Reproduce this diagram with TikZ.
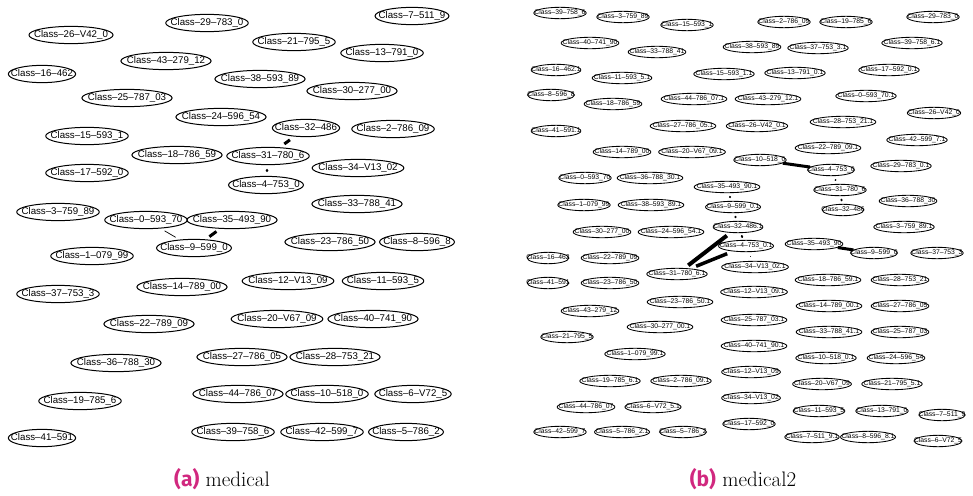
\documentclass[tikz,border=0pt]{standalone}
\usepackage{fontspec}
\usepackage{xcolor}
\usepackage{tikz}
\usetikzlibrary{shapes.geometric}
\newfontfamily\fuentenodo{Liberation Sans}
\newfontfamily\fuenteetiq{Fira Sans}
\definecolor{rosa}{HTML}{D1287F}

\begin{document}
\begin{tikzpicture}[
  x=1pt,y=-1pt,
  clase/.style={ellipse,draw,line width=1pt,inner xsep=-7.2pt,inner ysep=1.5pt,
                text height=7.3pt,text depth=1.9pt,
                font=\fuentenodo\fontsize{9.7}{10}\selectfont},
  clasechica/.style={clase,line width=0.85pt,inner xsep=-7pt,inner ysep=0.8pt,
                text height=5.1pt,text depth=1.36pt,
                font=\fuentenodo\fontsize{6.8}{7.5}\selectfont},
  arista/.style={draw=black},
  fina/.style={arista,line width=0.7pt,shorten <=4.5pt,shorten >=4.5pt},
  gruesa/.style={arista,line width=3pt,shorten <=5.5pt,shorten >=5.5pt},
  punto/.style={arista,line width=2pt,line cap=round,shorten <=4.3pt,shorten >=4.3pt},
  leyenda/.style={anchor=base,inner sep=0pt,font=\fontsize{21}{25}\selectfont}
]
\useasboundingbox (0,0) rectangle (973,495);

% (a) medical
\node[clase] (a29) at (207,23) {Class–29–783\_0};
\node[clase] (a7) at (412,16) {Class–7–511\_9};
\node[clase] (a26) at (71,35) {Class–26–V42\_0};
\node[clase] (a21) at (294,42) {Class–21–795\_5};
\node[clase] (a43) at (166,61) {Class–43–279\_12};
\node[clase] (a13) at (382,53) {Class–13–791\_0};
\node[clase] (a16) at (42,74) {Class–16–462};
\node[clase] (a38) at (260,79) {Class–38–593\_89};
\node[clase] (a25) at (127,98) {Class–25–787\_03};
\node[clase] (a30) at (352,91) {Class–30–277\_00};
\node[clase] (a24) at (221,117) {Class–24–596\_54};
\node[clase] (a32) at (306,128) {Class–32–486};
\node[clase] (a2) at (393,129) {Class–2–786\_09};
\node[clase] (a15) at (87,136) {Class–15–593\_1};
\node[clase] (a18) at (177,155) {Class–18–786\_59};
\node[clase] (a31) at (268,156) {Class–31–780\_6};
\node[clase] (a34) at (358,168) {Class–34–V13\_02};
\node[clase] (a17) at (87,173) {Class–17–592\_0};
\node[clase] (a4) at (266,185) {Class–4–753\_0};
\node[clase] (a33) at (357,204) {Class–33–788\_41};
\node[clase] (a3) at (58,212) {Class–3–759\_89};
\node[clase] (a0) at (146,220) {Class–0–593\_70};
\node[clase] (a35) at (232,220) {Class–35–493\_90};
\node[clase] (a9) at (194,248) {Class–9–599\_0};
\node[clase] (a23) at (330,242) {Class–23–786\_50};
\node[clase] (a8) at (417,242) {Class–8–596\_8};
\node[clase] (a1) at (92,256) {Class–1–079\_99};
\node[clase] (a37) at (58,294) {Class–37–753\_3};
\node[clase] (a14) at (182,287) {Class–14–789\_00};
\node[clase] (a12) at (288,281) {Class–12–V13\_09};
\node[clase] (a11) at (383,281) {Class–11–593\_5};
\node[clase] (a22) at (149,324) {Class–22–789\_09};
\node[clase] (a20) at (277,319) {Class–20–V67\_09};
\node[clase] (a40) at (373,319) {Class–40–741\_90};
\node[clase] (a36) at (116,363) {Class–36–788\_30};
\node[clase] (a27) at (242,357) {Class–27–786\_05};
\node[clase] (a28) at (335,357) {Class–28–753\_21};
\node[clase] (a19) at (80,401) {Class–19–785\_6};
\node[clase] (a44) at (238,394) {Class–44–786\_07};
\node[clase] (a10) at (327,394) {Class–10–518\_0};
\node[clase] (a6) at (413,394) {Class–6–V72\_5};
\node[clase] (a41) at (42,438) {Class–41–591};
\node[clase] (a39) at (233,432) {Class–39–758\_6};
\node[clase] (a42) at (322,432) {Class–42–599\_7};
\node[clase] (a5) at (406,432) {Class–5–786\_2};

\draw[gruesa] (a32) -- (a31);
\draw[punto,line width=2.5pt,shorten <=5.8pt,shorten >=5.8pt] (a31) -- (a4);
\draw[fina] (a0) -- (a9);
\draw[gruesa,shorten <=4.5pt,shorten >=4.5pt] (a35) -- (a9);

% (b) medical2
\node[clasechica] (b39) at (560,13) {Class–39–758\_6};
\node[clasechica] (b3) at (623,17) {Class–3–759\_89};
\node[clasechica] (b15) at (687,25) {Class–15–593\_1};
\node[clasechica] (b2) at (784,22) {Class–2–786\_09};
\node[clasechica] (b19) at (846,22) {Class–19–785\_6};
\node[clasechica] (b29) at (933,17) {Class–29–783\_0};
\node[clasechica] (b40) at (590,43) {Class–40–741\_90};
\node[clasechica] (b33) at (657,52) {Class–33–788\_41};
\node[clasechica] (b38) at (752,47) {Class–38–593\_89};
\node[clasechica] (b37p) at (818,48) {Class–37–753\_3.1};
\node[clasechica] (b39p) at (912,43) {Class–39–758\_6.1};
\node[clasechica] (b16p) at (556,70) {Class–16–462.1};
\node[clasechica] (b11p) at (622,78) {Class–11–593\_5.1};
\node[clasechica] (b15p) at (724,74) {Class–15–593\_1.1};
\node[clasechica] (b13p) at (795,73) {Class–13–791\_0.1};
\node[clasechica] (b17p) at (889,70) {Class–17–592\_0.1};
\node[clasechica] (b8) at (551,95) {Class–8–596\_8};
\node[clasechica] (b18) at (613,104) {Class–18–786\_59};
\node[clasechica] (b44p) at (694,99) {Class–44–786\_07.1};
\node[clasechica] (b43p) at (768,99) {Class–43–279\_12.1};
\node[clasechica] (b0p) at (866,96) {Class–0–593\_70.1};
\node[clasechica] (b26) at (934,113) {Class–26–V42\_0};
\node[clasechica] (b41p) at (556,131) {Class–41–591.1};
\node[clasechica] (b27p) at (683,126) {Class–27–786\_05.1};
\node[clasechica] (b26p) at (757,126) {Class–26–V42\_0.1};
\node[clasechica] (b28p) at (843,122) {Class–28–753\_21.1};
\node[clasechica] (b42p) at (917,140) {Class–42–599\_7.1};
\node[clasechica] (b22p) at (828,148) {Class–22–789\_09.1};
\node[clasechica] (b14) at (622,152) {Class–14–789\_00};
\node[clasechica] (b20p) at (692,152) {Class–20–V67\_09.1};
\node[clasechica] (b10) at (760,160) {Class–10–518\_0};
\node[clasechica] (b4) at (831,170) {Class–4–753\_0};
\node[clasechica] (b29p) at (901,166) {Class–29–783\_0.1};
\node[clasechica] (b0) at (585,178) {Class–0–593\_70};
\node[clasechica] (b36p) at (650,178) {Class–36–788\_30.1};
\node[clasechica] (b35p) at (727,187) {Class–35–493\_90.1};
\node[clasechica] (b31) at (840,190) {Class–31–780\_6};
\node[clasechica] (b36) at (908,201) {Class–36–788\_30};
\node[clasechica] (b1) at (584,205) {Class–1–079\_99};
\node[clasechica] (b38p) at (651,205) {Class–38–593\_89.1};
\node[clasechica] (b9p) at (733,207) {Class–9–599\_0.1};
\node[clasechica] (b32) at (843,210) {Class–32–486};
\node[clasechica] (b30) at (602,232) {Class–30–277\_00};
\node[clasechica] (b24p) at (671,232) {Class–24–596\_54.1};
\node[clasechica] (b32p) at (738,227) {Class–32–486.1};
\node[clasechica] (b3p) at (904,227) {Class–3–759\_89.1};
\node[clasechica] (b35) at (814,244) {Class–35–493\_90};
\node[clasechica] (b4p) at (746,246) {Class–4–753\_0.1};
\node[clasechica] (b9) at (874,253) {Class–9–599\_0};
\node[clasechica] (b37) at (937,253) {Class–37–753\_3};
\node[clasechica] (b16) at (548,258) {Class–16–462};
\node[clasechica] (b22) at (610,258) {Class–22–789\_09};
\node[clasechica] (b34p) at (755,267) {Class–34–V13\_02.1};
\node[clasechica] (b31p) at (677,274) {Class–31–780\_6.1};
\node[clasechica] (b18p) at (828,280) {Class–18–786\_59.1};
\node[clasechica] (b28) at (900,280) {Class–28–753\_21};
\node[clasechica] (b41) at (548,283) {Class–41–591};
\node[clasechica] (b23) at (610,283) {Class–23–786\_50};
\node[clasechica] (b12p) at (754,292) {Class–12–V13\_09.1};
\node[clasechica] (b23p) at (680,302) {Class–23–786\_50.1};
\node[clasechica] (b14p) at (829,306) {Class–14–789\_00.1};
\node[clasechica] (b27) at (900,306) {Class–27–786\_05};
\node[clasechica] (b43) at (590,311) {Class–43–279\_12};
\node[clasechica] (b25p) at (754,320) {Class–25–787\_03.1};
\node[clasechica] (b30p) at (660,327) {Class–30–277\_00.1};
\node[clasechica] (b33p) at (829,332) {Class–33–788\_41.1};
\node[clasechica] (b25) at (900,332) {Class–25–787\_03};
\node[clasechica] (b21) at (567,337) {Class–21–795\_5};
\node[clasechica] (b40p) at (754,346) {Class–40–741\_90.1};
\node[clasechica] (b1p) at (635,354) {Class–1–079\_99.1};
\node[clasechica] (b10p) at (826,358) {Class–10–518\_0.1};
\node[clasechica] (b24) at (896,358) {Class–24–596\_54};
\node[clasechica] (b12) at (751,372) {Class–12–V13\_09};
\node[clasechica] (b19p) at (610,381) {Class–19–785\_6.1};
\node[clasechica] (b2p) at (681,381) {Class–2–786\_09.1};
\node[clasechica] (b20) at (822,384) {Class–20–V67\_09};
\node[clasechica] (b21p) at (892,384) {Class–21–795\_5.1};
\node[clasechica] (b34) at (751,398) {Class–34–V13\_02};
\node[clasechica] (b44) at (586,407) {Class–44–786\_07};
\node[clasechica] (b6p) at (653,407) {Class–6–V72\_5.1};
\node[clasechica] (b11) at (819,411) {Class–11–593\_5};
\node[clasechica] (b13) at (882,411) {Class–13–791\_0};
\node[clasechica] (b7) at (942,415) {Class–7–511\_9};
\node[clasechica] (b17) at (749,424) {Class–17–592\_0};
\node[clasechica] (b42) at (560,432) {Class–42–599\_7};
\node[clasechica] (b5p) at (622,432) {Class–5–786\_2.1};
\node[clasechica] (b5) at (683,432) {Class–5–786\_2};
\node[clasechica] (b7p) at (812,437) {Class–7–511\_9.1};
\node[clasechica] (b8p) at (868,437) {Class–8–596\_8.1};
\node[clasechica] (b6) at (938,441) {Class–6–V72\_5};

\draw[gruesa,shorten <=0pt,shorten >=0pt] (b10) -- (b4);
\draw[punto] (b4) -- (b31);
\draw[punto] (b31) -- (b32);
\draw[gruesa,shorten <=0pt,shorten >=0pt] (b35) -- (b9);
\draw[punto] (b35p) -- (b9p);
\draw[punto] (b9p) -- (b32p);
\draw[gruesa,line width=4pt,shorten <=4.5pt,shorten >=4.5pt] (b32p) -- (b31p);
\draw[gruesa,line width=3.5pt,shorten <=6pt,shorten >=6pt] (b4p) -- (b31p);
\draw[punto] (b32p) -- (b4p);
\draw[fina,shorten <=4.5pt,shorten >=4.5pt] (b4p) -- (b34p);

% leyendas
\node[leyenda] (capa) at (222,486) {{\fuenteetiq\bfseries\color{rosa}(a)} medical};
\node[leyenda] (capb) at (743,486) {{\fuenteetiq\bfseries\color{rosa}(b)} medical2};
\end{tikzpicture}
\end{document}
